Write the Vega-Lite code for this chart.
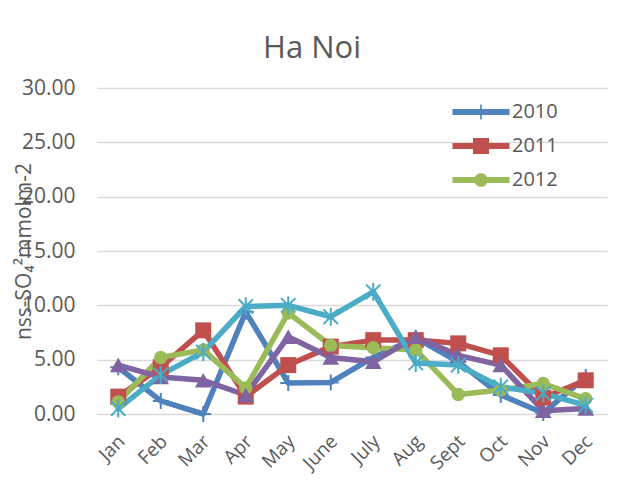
{
  "$schema": "https://vega.github.io/schema/vega-lite/v6.json",
  "width": 510,
  "height": 326,
  "autosize": "none",
  "padding": {"left": 97, "top": 88, "right": 22, "bottom": 72},
  "background": "white",
  "title": {"text": "Ha Noi", "fontSize": 31, "font": "Open Sans", "fontWeight": "normal", "color": "#595959", "anchor": "middle", "frame": "group", "dx": -40, "baseline": "alphabetic", "offset": -12},
  "config": {"view": {"stroke": null}, "font": "Open Sans"},
  "data": {"values": [
    {"month": "Jan", "year": "2010", "value": 4.3}, {"month": "Feb", "year": "2010", "value": 1.2}, {"month": "Mar", "year": "2010", "value": 0.0}, {"month": "Apr", "year": "2010", "value": 9.4}, {"month": "May", "year": "2010", "value": 2.85}, {"month": "June", "year": "2010", "value": 2.9}, {"month": "July", "year": "2010", "value": 5.2}, {"month": "Aug", "year": "2010", "value": 7.0}, {"month": "Sept", "year": "2010", "value": 4.8}, {"month": "Oct", "year": "2010", "value": 1.75}, {"month": "Nov", "year": "2010", "value": 0.1}, {"month": "Dec", "year": "2010", "value": 3.4},
    {"month": "Jan", "year": "2011", "value": 1.6}, {"month": "Feb", "year": "2011", "value": 4.3}, {"month": "Mar", "year": "2011", "value": 7.7}, {"month": "Apr", "year": "2011", "value": 1.6}, {"month": "May", "year": "2011", "value": 4.5}, {"month": "June", "year": "2011", "value": 6.2}, {"month": "July", "year": "2011", "value": 6.8}, {"month": "Aug", "year": "2011", "value": 6.8}, {"month": "Sept", "year": "2011", "value": 6.5}, {"month": "Oct", "year": "2011", "value": 5.4}, {"month": "Nov", "year": "2011", "value": 1.5}, {"month": "Dec", "year": "2011", "value": 3.1},
    {"month": "Jan", "year": "2012", "value": 1.1}, {"month": "Feb", "year": "2012", "value": 5.2}, {"month": "Mar", "year": "2012", "value": 5.9}, {"month": "Apr", "year": "2012", "value": 2.4}, {"month": "May", "year": "2012", "value": 9.3}, {"month": "June", "year": "2012", "value": 6.3}, {"month": "July", "year": "2012", "value": 6.1}, {"month": "Aug", "year": "2012", "value": 5.9}, {"month": "Sept", "year": "2012", "value": 1.8}, {"month": "Oct", "year": "2012", "value": 2.2}, {"month": "Nov", "year": "2012", "value": 2.8}, {"month": "Dec", "year": "2012", "value": 1.4},
    {"month": "Jan", "year": "2013", "value": 4.5}, {"month": "Feb", "year": "2013", "value": 3.4}, {"month": "Mar", "year": "2013", "value": 3.1}, {"month": "Apr", "year": "2013", "value": 1.75}, {"month": "May", "year": "2013", "value": 7.1}, {"month": "June", "year": "2013", "value": 5.2}, {"month": "July", "year": "2013", "value": 4.8}, {"month": "Aug", "year": "2013", "value": 7.1}, {"month": "Sept", "year": "2013", "value": 5.4}, {"month": "Oct", "year": "2013", "value": 4.5}, {"month": "Nov", "year": "2013", "value": 0.3}, {"month": "Dec", "year": "2013", "value": 0.5},
    {"month": "Jan", "year": "2014", "value": 0.5}, {"month": "Feb", "year": "2014", "value": 3.6}, {"month": "Mar", "year": "2014", "value": 5.7}, {"month": "Apr", "year": "2014", "value": 9.9}, {"month": "May", "year": "2014", "value": 10.0}, {"month": "June", "year": "2014", "value": 8.95}, {"month": "July", "year": "2014", "value": 11.25}, {"month": "Aug", "year": "2014", "value": 4.7}, {"month": "Sept", "year": "2014", "value": 4.5}, {"month": "Oct", "year": "2014", "value": 2.5}, {"month": "Nov", "year": "2014", "value": 1.9}, {"month": "Dec", "year": "2014", "value": 0.8}
  ]},
  "encoding": {
    "x": {"field": "month", "type": "ordinal", "sort": ["Jan","Feb","Mar","Apr","May","June","July","Aug","Sept","Oct","Nov","Dec"], "scale": {"paddingInner": 0, "paddingOuter": 0.5},
      "axis": {"title": null, "domain": false, "ticks": false, "labelAngle": -45, "labelAlign": "right", "labelBaseline": "middle", "labelFontSize": 19, "labelFont": "Open Sans", "labelColor": "#595959", "labelPadding": 24, "labelOffset": 3}},
    "y": {"field": "value", "type": "quantitative", "scale": {"domain": [0, 30], "nice": false},
      "axis": {"values": [0,5,10,15,20,25,30], "format": ".2f", "domain": false, "ticks": false, "gridColor": "#D9D9D9", "gridWidth": 1.5, "labelFontSize": 21, "labelFont": "Open Sans", "labelColor": "#595959", "labelPadding": 22,
        "title": "nss-SO₄²mmolm-2", "titleFont": "Open Sans", "titleFontSize": 21, "titleFontWeight": "normal", "titleColor": "#595959", "titleAngle": -90, "titleX": -73, "titleY": 163, "titleAlign": "center", "titleBaseline": "middle"}}
  },
  "layer": [
    {"mark": {"type": "line", "strokeWidth": 5.5, "strokeJoin": "round", "strokeCap": "round"},
     "encoding": {"color": {"field": "year", "type": "nominal", "scale": {"domain": ["2010","2011","2012","2013","2014"], "range": ["#4F81BD","#C0504D","#9BBB59","#8064A2","#4BACC6"]},
       "legend": {"values": ["2010","2011","2012"], "title": null, "orient": "none", "legendX": 374, "legendY": 14, "padding": 0, "symbolSize": 400, "rowPadding": 14, "labelOffset": 21, "labelFontSize": 20, "labelFont": "Open Sans", "labelColor": "#595959",
       "encode": {"symbols": {"update": {
         "shape": {"signal": "datum.value == '2010' ? 'M-2.85,-0.3H2.85V0.3H-2.85ZM-0.08,-0.75H0.08V0.75H-0.08Z' : datum.value == '2011' ? 'M-2.85,-0.3H2.85V0.3H-2.85ZM-0.8,-0.8H0.8V0.8H-0.8Z' : 'M-2.85,-0.3H2.85V0.3H-2.85ZM-0.68,0A0.68,0.68,0,1,1,0.68,0A0.68,0.68,0,1,1,-0.68,0Z'"},
         "size": {"value": 400},
         "fill": {"signal": "scale('color', datum.value)"},
         "stroke": {"value": "transparent"},
         "strokeWidth": {"value": 0},
         "opacity": {"value": 1}
       }}}}}}},
    {"transform": [{"filter": "datum.year == '2010'"}],
     "mark": {"type": "point", "shape": "M0,-1V1M-1,0H1", "size": 256, "filled": false, "stroke": "#4F81BD", "strokeWidth": 2, "opacity": 1}},
    {"transform": [{"filter": "datum.year == '2011'"}],
     "mark": {"type": "point", "shape": "square", "size": 256, "filled": true, "fill": "#C0504D", "opacity": 1}},
    {"transform": [{"filter": "datum.year == '2012'"}],
     "mark": {"type": "point", "shape": "circle", "size": 180, "filled": true, "fill": "#9BBB59", "opacity": 1}},
    {"transform": [{"filter": "datum.year == '2013'"}],
     "mark": {"type": "point", "shape": "triangle-up", "size": 280, "filled": true, "fill": "#8064A2", "opacity": 1}},
    {"transform": [{"filter": "datum.year == '2014'"}],
     "mark": {"type": "point", "shape": "M0,-1V1M-0.8,-0.8L0.8,0.8M0.8,-0.8L-0.8,0.8", "size": 324, "filled": false, "stroke": "#4BACC6", "strokeWidth": 2, "opacity": 1}}
  ]
}
